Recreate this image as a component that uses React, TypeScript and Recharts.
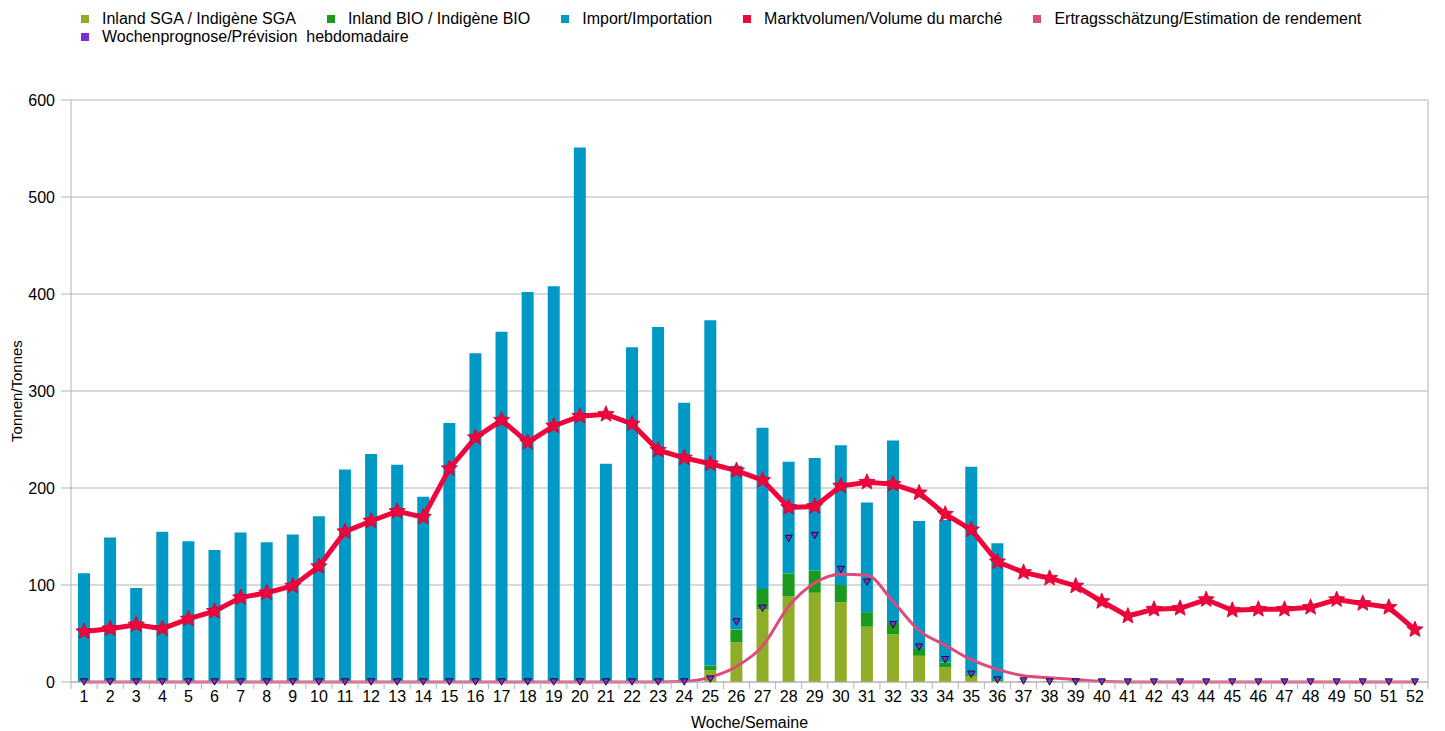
import React from 'react';
import { ComposedChart, Bar, Line, XAxis, YAxis, CartesianGrid } from 'recharts';

const weeks = ['1','2','3','4','5','6','7','8','9','10','11','12','13','14','15','16','17','18','19','20','21','22','23','24','25','26','27','28','29','30','31','32','33','34','35','36','37','38','39','40','41','42','43','44','45','46','47','48','49','50','51','52'];

const inlandSGA = [0,0,0,0,0,0,0,0,0,0,0,0,0,0,0,0,0,0,0,0,0,0,0,0,12,41,75,88,92,82,57,49,27,15,6,1,1,1,1,0,0,0,0,0,0,0,0,0,0,0,0,0];
const inlandBIO = [0,0,0,0,0,0,0,0,0,0,0,0,0,0,0,0,0,0,0,0,0,0,0,0,5,13,21,24,23,18,15,12,7,5,2,1,0,0,0,0,0,0,0,0,0,0,0,0,0,0,0,0];
const importVals = [112,149,97,155,145,136,154,144,152,171,219,235,224,191,267,339,361,402,408,551,225,345,366,288,356,169,166,115,116,144,113,188,132,147,214,141,0,0,0,0,0,0,0,0,0,0,0,0,0,0,0,0];
const marktvolumen = [52,55,59,55,65,73,87,92,99,119,155,166,176,170,220,252,270,247,264,274,276,266,239,231,225,218,208,180,181,202,206,204,195,173,157,124,113,107,99,83,68,75,76,85,74,75,75,77,85,81,77,54];
const ertrag = [0,0,0,0,0,0,0,0,0,0,0,0,0,0,0,0,0,0,0,0,0,0,0,0.5,5,16,37,78,102,111,110,83,53,38,23,13,6.5,4.5,2.5,0.5,0,0,0,0,0,0,0,0,0,0,0,0];
const prognose = [0,0,0,0,0,0,0,0,0,0,0,0,0,0,0,0,0,0,0,0,0,0,0,0,3,62,76,148,151,116,103,59,36,23,8,2,1,0,0,0,0,0,0,0,0,0,0,0,0,0,0,0];
const yTicks = [0, 100, 200, 300, 400, 500, 600];

const seriesNames = {
  sga: 'Inland SGA / Indigène SGA',
  bio: 'Inland BIO / Indigène BIO',
  imp: 'Import/Importation',
  markt: 'Marktvolumen/Volume du marché',
  ertrag: 'Ertragsschätzung/Estimation de rendement',
  prog: 'Wochenprognose/Prévision\u00a0\u00a0hebdomadaire',
};

const colors = {
  sga: '#8fad26',
  bio: '#1b9a1e',
  imp: '#0099c6',
  markt: '#f0053c',
  ertrag: '#dc4b7c',
  prog: '#7b2fd8',
};

const data = weeks.map((w, i) => ({
  week: w,
  sga: inlandSGA[i],
  bio: inlandBIO[i],
  imp: importVals[i],
  markt: marktvolumen[i],
  ertrag: ertrag[i],
  prog: prognose[i],
}));

const W = 1445;
const H = 731;
const LEFT = 71;
const RIGHT = 17;
const PLOT_W = W - LEFT - RIGHT;
const GRID = '#b3b3b3';
const FONT = '"Liberation Sans", Arial, sans-serif';

const StarDot = (props: any) => {
  const { cx, cy } = props;
  if (cx == null || cy == null) return null;
  const outer = 8.5;
  const inner = 3.8;
  const pts: string[] = [];
  for (let k = 0; k < 10; k++) {
    const r = k % 2 === 0 ? outer : inner;
    const a = -Math.PI / 2 + (k * Math.PI) / 5;
    pts.push(`${cx + r * Math.cos(a)},${cy + r * Math.sin(a)}`);
  }
  return <polygon points={pts.join(' ')} fill={colors.markt} stroke="#d0002e" strokeWidth={0.8} />;
};

const TriDot = (props: any) => {
  const { cx, cy } = props;
  if (cx == null || cy == null) return null;
  const hw = 3.6;
  const hh = 3.2;
  return (
    <polygon
      points={`${cx - hw},${cy - hh} ${cx + hw},${cy - hh} ${cx},${cy + hh}`}
      fill={colors.prog}
      stroke="#000"
      strokeWidth={0.8}
    />
  );
};

const XTick = (props: any) => {
  const { x, y, payload, index } = props;
  const band = PLOT_W / weeks.length;
  const top = y - 8;
  return (
    <g>
      {index === 0 && <line x1={x - band / 2} x2={x - band / 2} y1={top} y2={top + 7} stroke={GRID} />}
      <line x1={x + band / 2} x2={x + band / 2} y1={top} y2={top + 7} stroke={GRID} />
      <text x={x} y={y + 12} textAnchor="middle" fontSize={16} fill="#000" fontFamily={FONT}>
        {payload.value}
      </text>
    </g>
  );
};

const legendOrder: (keyof typeof seriesNames)[] = ['sga', 'bio', 'imp', 'markt', 'ertrag', 'prog'];

const LegendBox = () => (
  <div
    style={{
      position: 'absolute',
      left: 81,
      top: 10,
      width: 1330,
      display: 'flex',
      flexWrap: 'wrap',
      fontFamily: FONT,
      fontSize: 16,
      lineHeight: '18px',
      color: '#000',
    }}
  >
    {legendOrder.map((k) => (
      <div key={k} style={{ display: 'flex', alignItems: 'center', marginRight: 31, whiteSpace: 'nowrap' }}>
        <span style={{ display: 'inline-block', width: 8, height: 8, background: colors[k], marginRight: 13 }} />
        <span>{seriesNames[k]}</span>
      </div>
    ))}
  </div>
);

export default function App() {
  return (
    <div style={{ position: 'absolute', left: 0, top: 0, width: W, height: H, background: '#fff', fontFamily: FONT }}>
      <LegendBox />
      <ComposedChart
        width={W}
        height={H}
        data={data}
        margin={{ top: 100, right: 0, bottom: 0, left: 0 }}
        barCategoryGap={0}
      >
        <CartesianGrid horizontal={true} vertical={false} stroke={GRID} yAxisId="left" />
        <XAxis
          dataKey="week"
          height={49}
          interval={0}
          tickLine={false}
          axisLine={{ stroke: GRID }}
          tick={<XTick />}
          label={{
            content: (p: any) => {
              const vb = p.viewBox || { x: LEFT, y: 682, width: PLOT_W, height: 49 };
              return (
                <text x={vb.x + vb.width / 2} y={vb.y + 46} textAnchor="middle" fontSize={16} fill="#000" fontFamily={FONT}>
                  Woche/Semaine
                </text>
              );
            },
          }}
        />
        <YAxis
          yAxisId="left"
          width={LEFT}
          domain={[0, 600]}
          ticks={yTicks}
          interval={0}
          tickSize={10}
          tickMargin={6}
          tickLine={{ stroke: GRID }}
          axisLine={{ stroke: GRID }}
          tick={{ fill: '#000', fontSize: 16, fontFamily: FONT }}
          label={{
            content: (p: any) => {
              const vb = p.viewBox || { x: 0, y: 100, width: LEFT, height: 582 };
              const cx = vb.x + 16;
              const cy = vb.y + vb.height / 2;
              return (
                <text
                  x={cx}
                  y={cy}
                  transform={`rotate(-90, ${cx}, ${cy})`}
                  textAnchor="middle"
                  dominantBaseline="central"
                  fontSize={15}
                  fill="#000"
                  fontFamily={FONT}
                >
                  Tonnen/Tonnes
                </text>
              );
            },
          }}
        />
        <YAxis
          yAxisId="right"
          orientation="right"
          width={RIGHT}
          domain={[0, 600]}
          ticks={yTicks}
          tick={false}
          tickLine={false}
          axisLine={{ stroke: GRID }}
        />
        <Bar yAxisId="left" dataKey="sga" stackId="a" fill={colors.sga} barSize={12} isAnimationActive={false} />
        <Bar yAxisId="left" dataKey="bio" stackId="a" fill={colors.bio} barSize={12} isAnimationActive={false} />
        <Bar yAxisId="left" dataKey="imp" stackId="a" fill={colors.imp} barSize={12} isAnimationActive={false} />
        <Line
          yAxisId="left"
          dataKey="prog"
          stroke="none"
          dot={<TriDot />}
          activeDot={false}
          isAnimationActive={false}
        />
        <Line
          yAxisId="left"
          type="monotone"
          dataKey="ertrag"
          stroke={colors.ertrag}
          strokeWidth={3}
          dot={false}
          activeDot={false}
          isAnimationActive={false}
        />
        <Line
          yAxisId="left"
          type="linear"
          dataKey="markt"
          stroke={colors.markt}
          strokeWidth={5}
          dot={<StarDot />}
          activeDot={false}
          isAnimationActive={false}
        />
      </ComposedChart>
    </div>
  );
}
